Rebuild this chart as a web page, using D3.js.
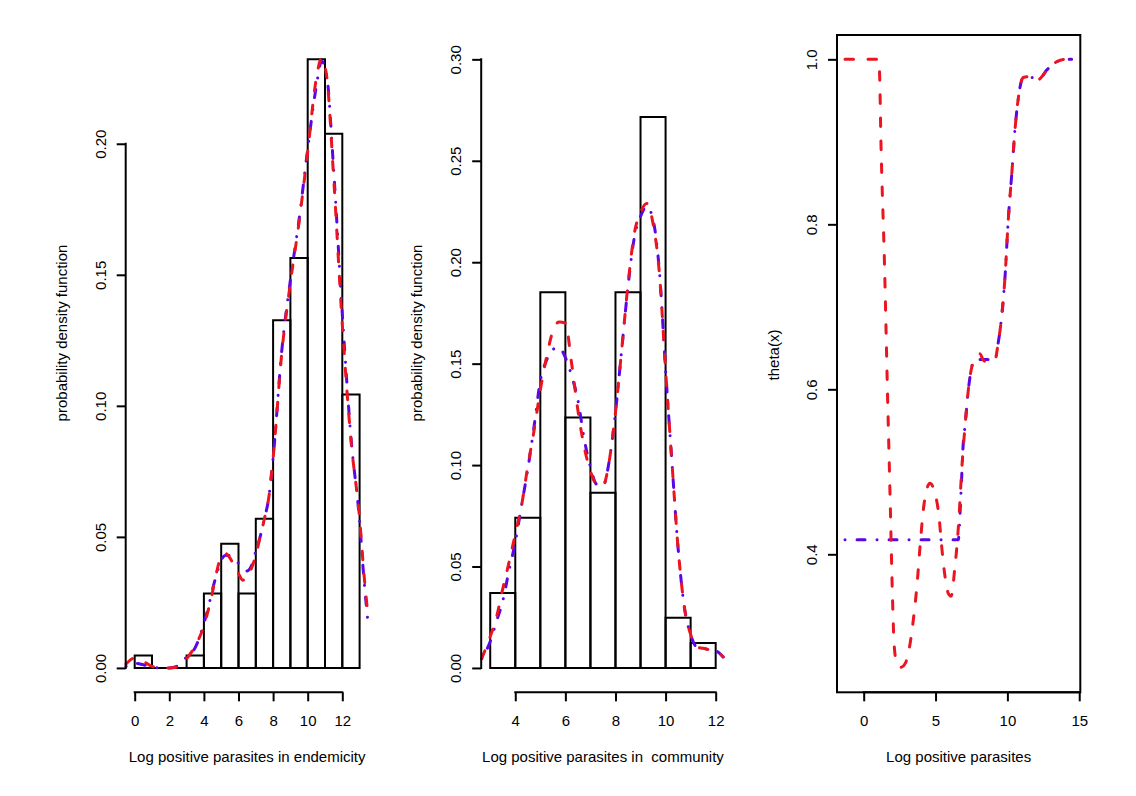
<!DOCTYPE html>
<html><head><meta charset="utf-8">
<script src="https://cdn.jsdelivr.net/npm/d3@7"></script>
<style>
body{margin:0;background:#fff}
svg{display:block;background:#fff}
text{font-family:"Liberation Sans",Arial,Helvetica,sans-serif;font-size:15px;fill:#000}
</style>
</head><body>
<svg id="chart" width="1136" height="796"></svg>
<script>
// ---------- data ----------
const endemicBreaks = [0,1,2,3,4,5,6,7,8,9,10,11,12,13];
const endemicDensity = [0.0047,0,0,0.0047,0.0284,0.0474,0.0284,0.0569,0.1327,0.1564,0.2322,0.2038,0.1043];
const endemicGrid = [-0.5,0,0.5,1,1.5,2,2.5,3,3.5,4,4.25,4.5,4.75,5,5.25,5.5,5.75,6,6.25,6.5,6.75,7,7.25,7.5,7.75,8,8.5,9,9.5,10,10.5,10.8,11.1,11.5,12,12.5,13,13.25,13.5];
const endemicKdeRed = [0.0015,0.0038,0.0025,0.0006,0.0001,0,0.0004,0.0035,0.0085,0.016,0.022,0.029,0.037,0.0425,0.0437,0.042,0.039,0.036,0.0335,0.034,0.038,0.043,0.050,0.057,0.065,0.080,0.12,0.147,0.170,0.197,0.225,0.2326,0.2256,0.187,0.131,0.087,0.057,0.036,0.019];
const endemicKdeBlue = [0.0006,0.0018,0.0012,0.0004,0,0,0.0008,0.0042,0.0078,0.017,0.023,0.030,0.036,0.041,0.043,0.0428,0.042,0.040,0.0385,0.037,0.039,0.0445,0.050,0.057,0.065,0.080,0.121,0.148,0.171,0.198,0.222,0.2315,0.226,0.19,0.135,0.088,0.056,0.034,0.0163];
const endemicXTicks = [0,2,4,6,8,10,12];
const endemicYTicks = [0,0.05,0.10,0.15,0.20];

const communityBreaks = [3,4,5,6,7,8,9,10,11,12];
const communityDensity = [0.0370,0.0741,0.1852,0.1235,0.0864,0.1852,0.2716,0.0247,0.0123];
const communityGrid = [2.66,3,3.25,3.5,3.75,4,4.25,4.5,4.75,5,5.25,5.5,5.75,6,6.25,6.5,6.75,7,7.25,7.5,7.75,8,8.25,8.5,8.75,9,9.25,9.5,9.75,10,10.25,10.5,10.75,11,11.25,11.5,11.75,12,12.3];
const communityKdeRed = [0.0046,0.0155,0.025,0.039,0.052,0.066,0.080,0.0995,0.117,0.137,0.1534,0.166,0.1705,0.170,0.150,0.127,0.109,0.097,0.0905,0.0898,0.102,0.126,0.157,0.189,0.214,0.2245,0.229,0.219,0.195,0.147,0.102,0.059,0.030,0.0165,0.0102,0.0097,0.009,0.0085,0.0054];
const communityKdeBlue = [0.0046,0.013,0.023,0.033,0.048,0.062,0.080,0.098,0.119,0.1415,0.1517,0.157,0.158,0.153,0.144,0.132,0.113,0.099,0.0905,0.0898,0.102,0.126,0.157,0.188,0.212,0.2225,0.2275,0.221,0.196,0.147,0.102,0.059,0.030,0.0165,0.0102,0.0097,0.009,0.0085,0.0054];
const communityXTicks = [4,6,8,10,12];
const communityYTicks = [0,0.05,0.10,0.15,0.20,0.25,0.30];

const thetaRedX = [-1.3,1.02,1.1,1.2,1.45,1.65,1.85,2.0,2.12,2.3,2.6,2.9,3.15,3.45,3.7,3.92,4.15,4.38,4.61,4.96,5.24,5.43,5.66,5.9,6.08,6.35,6.54,6.65,6.82,7.05,7.28,7.52,7.75,8.1,8.3,8.56,9.14,9.35,9.6,9.83,10.06,10.3,10.53,10.76,11.11,11.5,12.04,12.4,12.74,13.1,13.43,14.0,14.47];
const thetaRedY = [1.0,1.0,0.985,0.9,0.75,0.6,0.46,0.35,0.29,0.268,0.263,0.268,0.284,0.32,0.361,0.409,0.454,0.478,0.486,0.474,0.446,0.409,0.373,0.352,0.349,0.385,0.421,0.45,0.502,0.555,0.599,0.627,0.636,0.643,0.636,0.633,0.636,0.655,0.688,0.735,0.805,0.86,0.915,0.953,0.978,0.979,0.974,0.979,0.987,0.993,0.997,1.0,1.0];
const thetaBlueX = [-1.3,6.58,6.77,6.93,7.05,7.28,7.52,7.75,9.14,9.35,9.6,9.83,10.06,10.3,10.53,10.76,11.11,12.3,12.74,13.1,13.43,14.0,14.47];
const thetaBlueY = [0.4175,0.4175,0.474,0.535,0.555,0.599,0.627,0.636,0.636,0.655,0.688,0.735,0.805,0.86,0.915,0.953,0.978,0.978,0.987,0.993,0.997,1.0,1.0];
const thetaXTicks = [0,5,10,15];
const thetaYTicks = [0.4,0.6,0.8,1.0];

const labels = {
  endemicX: "Log positive parasites in endemicity",
  communityX: "Log positive parasites in  community",
  thetaX: "Log positive parasites",
  pdfY: "probability density function",
  thetaY: "theta(x)"
};

// ---------- style ----------
const RED = "#ea1520", BLUE = "#5a06e6";
const RED_DASH = "8.5,14.5", BLUE_DASH = "0.01,12,8,12";
const svg = d3.select("#chart");
const TOP = 35, BOTTOM = 692.3;

function fmt2(v){ return v.toFixed(2); }
function fmt1(v){ return v.toFixed(1); }

function drawYAxis(g, y, left, ticks, fmt){
  const ax = g.append("g").attr("transform", `translate(${left},0)`)
    .call(d3.axisLeft(y).tickValues(ticks).tickSize(9).tickSizeOuter(0).tickFormat(fmt));
  ax.select(".domain").remove();
  ax.selectAll(".tick line").attr("stroke","#000").attr("stroke-width",2);
  ax.selectAll(".tick text").attr("x",null).attr("dy",null)
    .attr("transform","rotate(-90)").attr("x",0).attr("y",-20)
    .attr("text-anchor","middle").style("font-size","15px")
    .style("font-family",'"Liberation Sans",Arial,sans-serif');
  ax.append("line").attr("x1",0).attr("x2",0)
    .attr("y1", y(ticks[0])).attr("y2", y(ticks[ticks.length-1]))
    .attr("stroke","#000").attr("stroke-width",2).attr("stroke-linecap","square");
  ax.attr("font-size",null).attr("font-family",null);
}
function drawXAxis(g, x, ticks){
  const ax = g.append("g").attr("transform", `translate(0,${BOTTOM})`)
    .call(d3.axisBottom(x).tickValues(ticks).tickSize(9).tickSizeOuter(0).tickFormat(d3.format("d")));
  ax.select(".domain").remove();
  ax.selectAll(".tick line").attr("stroke","#000").attr("stroke-width",2);
  ax.selectAll(".tick text").attr("y",33.4).attr("dy",null)
    .style("font-size","15px").style("font-family",'"Liberation Sans",Arial,sans-serif');
  ax.append("line").attr("y1",0).attr("y2",0)
    .attr("x1", x(ticks[0])).attr("x2", x(ticks[ticks.length-1]))
    .attr("stroke","#000").attr("stroke-width",2).attr("stroke-linecap","square");
  ax.attr("font-size",null).attr("font-family",null);
}
function drawHist(g, x, y, breaks, dens){
  g.append("g").selectAll("path").data(dens).join("path")
    .attr("d",(d,i)=>`M${x(breaks[i])},${y(0)}V${y(d)}H${x(breaks[i+1])}V${y(0)}Z`)
    .attr("fill","none").attr("stroke","#000").attr("stroke-width",2);
}
function drawCurve(g, x, y, xs, ys, color, dash, curve){
  const line = d3.line().x(d=>x(d[0])).y(d=>y(d[1])).curve(curve||d3.curveMonotoneX);
  g.append("path").datum(xs.map((v,i)=>[v,ys[i]]))
    .attr("d", line).attr("fill","none").attr("stroke",color)
    .attr("stroke-width",3).attr("stroke-dasharray",dash)
    .attr("stroke-linecap","round").attr("stroke-linejoin","round");
}
function yLabel(g, xpos, ycenter, txt){
  g.append("text").attr("transform",`translate(${xpos},${ycenter}) rotate(-90)`)
    .attr("text-anchor","middle").text(txt);
}
function xLabel(g, xcenter, txt){
  g.append("text").attr("x",xcenter).attr("y",761.5).attr("text-anchor","middle")
    .style("white-space","pre").text(txt);
}

// ---------- panel 1 ----------
{
  const L = 125.7, R = 368.6;
  const x = d3.scaleLinear().domain([-0.52,13.52]).range([L,R]);
  const y = d3.scaleLinear().domain([-0.0093,0.2415]).range([BOTTOM,TOP]);
  const g = svg.append("g");
  drawHist(g, x, y, endemicBreaks, endemicDensity);
  drawCurve(g, x, y, endemicGrid, endemicKdeBlue, BLUE, BLUE_DASH);
  drawCurve(g, x, y, endemicGrid, endemicKdeRed, RED, RED_DASH);
  drawYAxis(g, y, L, endemicYTicks, fmt2);
  drawXAxis(g, x, endemicXTicks);
  yLabel(g, L-58.9, 333, labels.pdfY);
  xLabel(g, (L+R)/2, labels.endemicX);
}
// ---------- panel 2 ----------
{
  const L = 481.2, R = 724.7;
  const x = d3.scaleLinear().domain([2.64,12.36]).range([L,R]);
  const y = d3.scaleLinear().domain([-0.012,0.312]).range([BOTTOM,TOP]);
  const g = svg.append("g");
  drawHist(g, x, y, communityBreaks, communityDensity);
  drawCurve(g, x, y, communityGrid, communityKdeBlue, BLUE, BLUE_DASH);
  drawCurve(g, x, y, communityGrid, communityKdeRed, RED, RED_DASH);
  drawYAxis(g, y, L, communityYTicks, fmt2);
  drawXAxis(g, x, communityXTicks);
  yLabel(g, L-58.9, 333, labels.pdfY);
  xLabel(g, (L+R)/2, labels.communityX);
}
// ---------- panel 3 ----------
{
  const L = 837, R = 1080.3;
  const x = d3.scaleLinear().domain([-1.858,15.074]).range([L,R]);
  const y = d3.scaleLinear().domain([0.2327,1.0295]).range([BOTTOM,TOP]);
  const g = svg.append("g");
  drawCurve(g, x, y, thetaBlueX, thetaBlueY, BLUE, BLUE_DASH);
  drawCurve(g, x, y, thetaRedX, thetaRedY, RED, RED_DASH);
  g.append("rect").attr("x",L).attr("y",TOP).attr("width",R-L).attr("height",BOTTOM-TOP)
    .attr("fill","none").attr("stroke","#000").attr("stroke-width",2);
  drawYAxis(g, y, L, thetaYTicks, fmt1);
  drawXAxis(g, x, thetaXTicks);
  yLabel(g, L-58.5, 355, labels.thetaY);
  xLabel(g, (L+R)/2, labels.thetaX);
}
</script>
</body></html>
